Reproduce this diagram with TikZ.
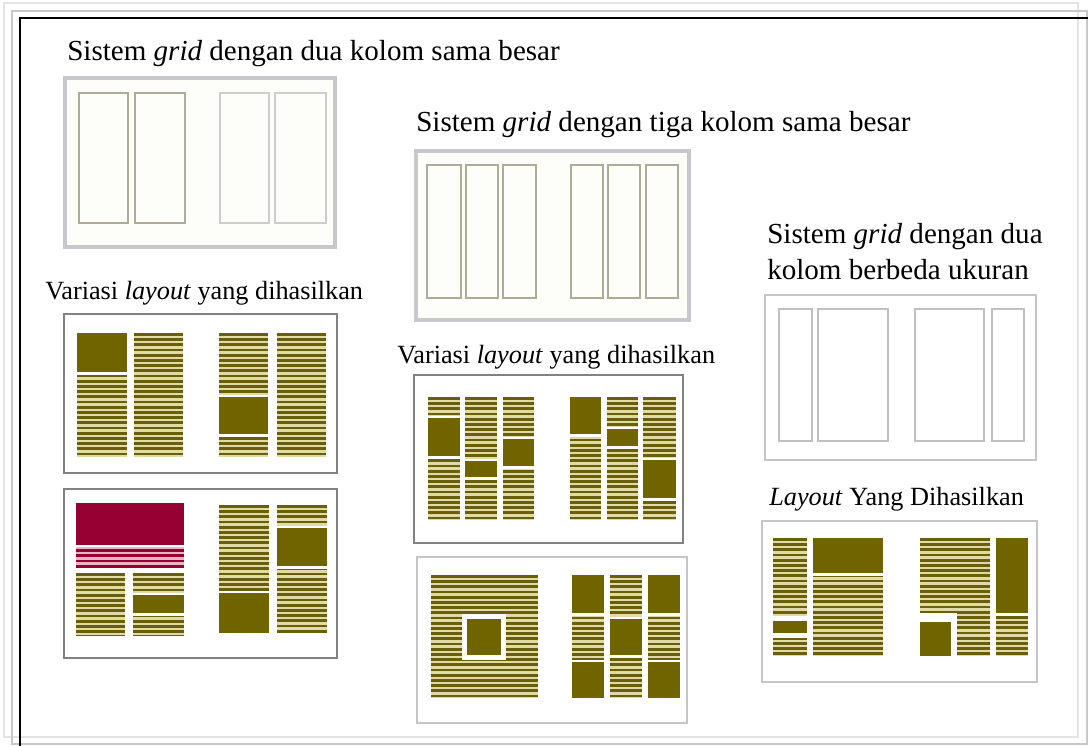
\documentclass[tikz,border=0pt]{standalone}
\usepackage{fontspec}
\setmainfont{Liberation Serif}
\definecolor{olv}{RGB}{112,100,0}
\definecolor{slinec}{RGB}{105,95,10}
\definecolor{sbgc}{RGB}{224,218,165}
\definecolor{crim}{RGB}{150,0,50}
\definecolor{pinkc}{RGB}{235,180,195}
\definecolor{cream}{RGB}{253,253,249}
\definecolor{gA}{RGB}{228,228,228}
\definecolor{gB}{RGB}{200,200,200}
\definecolor{gdark}{RGB}{130,130,130}
\definecolor{glight}{RGB}{198,198,200}
\definecolor{ggrid}{RGB}{200,200,204}
\definecolor{colAc}{RGB}{172,172,152}
\definecolor{colBc}{RGB}{205,205,205}
\definecolor{colCc}{RGB}{192,192,192}
\tikzset{
  sline/.style={line width=2.1pt,slinec},
  cline/.style={line width=2.1pt,crim},
  darkpanel/.style={draw=gdark,line width=1.9pt,fill=white},
  lightpanel/.style={draw=glight,line width=2.2pt,fill=white},
  gridpanel/.style={draw=ggrid,line width=2.4pt,fill=cream},
  colA/.style={draw=colAc,line width=1.1pt},
  colB/.style={draw=colBc,line width=1.1pt},
  colC/.style={draw=colCc,line width=1.6pt},
  big/.style={font=\fontsize{21.8pt}{26pt}\selectfont,inner sep=0pt,anchor=base west},
  mid/.style={font=\fontsize{19.7pt}{24pt}\selectfont,inner sep=0pt,anchor=base west},
}
\newcommand\tcol[4]{%
  \fill[sbgc] (#1,#2) rectangle (#3,#4);
  \begin{scope}
    \clip (#1,#2) rectangle (#3,#4);
    \foreach \k in {0,...,27}{\draw[sline] ({#1},{#2+1.3+\k*5.2}) -- ({#3},{#2+1.3+\k*5.2});}
  \end{scope}}
\newcommand\ccol[4]{%
  \fill[pinkc] (#1,#2) rectangle (#3,#4);
  \begin{scope}
    \clip (#1,#2) rectangle (#3,#4);
    \foreach \k in {0,...,5}{\draw[cline] ({#1},{#2+3.5+\k*5.2}) -- ({#3},{#2+3.5+\k*5.2});}
  \end{scope}}
\newcommand\blk[4]{%
  \fill[white] ({#1},{#2-2.5}) rectangle ({#3},{#4+2.5});
  \fill[olv] (#1,#2) rectangle (#3,#4);}
\begin{document}
\begin{tikzpicture}[x=0.75pt,y=-0.75pt]
\useasboundingbox (0,0) rectangle (1088,746);
\fill[white] (0,0) rectangle (1088,746);
% outer frames
\draw[gA,line width=1.2pt] (4,3) rectangle (1078,737);
\draw[gB,line width=1.2pt] (12,11) rectangle (1087,744);
\draw[black,line width=1.5pt] (20,746) -- (20,18) -- (1088,18);

% ---- texts
\node[big] (t1) at (67,60) {Sistem \textit{grid} dengan dua kolom sama besar};
\node[big] (t2) at (416,131) {Sistem \textit{grid} dengan tiga kolom sama besar};
\node[big] (t3a) at (767,243) {Sistem \textit{grid} dengan dua};
\node[big] (t3b) at (767,279) {kolom berbeda ukuran};
\node[mid] (v1) at (45,299) {Variasi \textit{layout} yang dihasilkan};
\node[mid] (v2) at (397,363) {Variasi \textit{layout} yang dihasilkan};
\node[mid] (v3) at (769,505) {\textit{Layout} Yang Dihasilkan};

% ---- Panel A : two equal columns
\draw[gridpanel] (65,78) rectangle (335,247);
\draw[colA] (79,93) rectangle (128,223);
\draw[colA] (135,93) rectangle (185,223);
\draw[colB] (220,93) rectangle (269,223);
\draw[colB] (275,93) rectangle (326,223);

% ---- Panel B : three equal columns
\draw[gridpanel] (416,151) rectangle (689,320);
\foreach \a/\b in {427/461,466/498,503/536,571/603,608/640,646/678}
  \draw[colA] (\a,165) rectangle (\b,298);

% ---- Panel C : two unequal columns
\draw[lightpanel] (765,295) rectangle (1036,460);
\foreach \a/\b in {779/812,818/888,915/984,992/1024}
  \draw[colC] (\a,309) rectangle (\b,441);

% ---- Panel D
\draw[darkpanel] (64,314) rectangle (337,473);
\tcol{77}{333}{127}{457}
\tcol{134}{333}{183}{457}
\tcol{219}{333}{268}{457}
\tcol{277}{333}{326}{457}
\blk{77}{333}{127}{372}
\blk{219}{397}{268}{434}

% ---- Panel E
\draw[darkpanel] (64,489) rectangle (337,658);
\fill[crim] (76,503) rectangle (184,545);
\ccol{76}{547}{184}{568}
\tcol{76}{573}{125}{635}
\tcol{133}{573}{184}{635}
\blk{133}{595}{184}{613}
\tcol{219}{505}{269}{633}
\tcol{277}{505}{327}{633}
\blk{219}{593}{269}{633}
\blk{277}{528}{327}{566}

% ---- Panel F
\draw[darkpanel] (414,375) rectangle (683,543);
\foreach \a/\b in {428/460,465/497,503/534,570/601,607/638,643/676}
  {\tcol{\a}{397}{\b}{520}}
\blk{428}{418}{460}{456}
\blk{465}{461}{497}{477}
\blk{503}{439}{534}{466}
\blk{570}{397}{601}{434}
\blk{607}{429}{638}{446}
\blk{643}{460}{676}{498}

% ---- Panel G
\draw[lightpanel] (417,557) rectangle (687,723);
\tcol{431}{575}{538}{698}
\fill[white] (462,614) rectangle (506,660);
\fill[olv] (467,619) rectangle (501,655);
\tcol{572}{575}{604}{698}
\tcol{610}{575}{642}{698}
\tcol{648}{575}{680}{698}
\blk{572}{575}{604}{613}
\blk{648}{575}{680}{613}
\blk{610}{619}{642}{655}
\blk{572}{662}{604}{698}
\blk{648}{662}{680}{698}

% ---- Panel H
\draw[lightpanel] (762,521) rectangle (1037,682);
\tcol{773}{538}{807}{656}
\tcol{813}{538}{883}{656}
\tcol{920}{538}{990}{656}
\tcol{996}{538}{1028}{656}
\blk{813}{538}{883}{573}
\fill[white] (773,616) rectangle (807,638);
\fill[olv] (773,621) rectangle (807,633);
\blk{996}{538}{1028}{613}
\fill[white] (919,613) rectangle (957,657);
\fill[olv] (920,622) rectangle (951,656);
\end{tikzpicture}
\end{document}
